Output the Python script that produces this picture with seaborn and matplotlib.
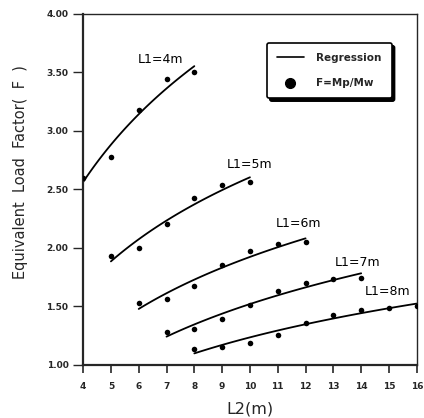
import numpy as np
import pandas as pd
import matplotlib
matplotlib.use("Agg")
import matplotlib.pyplot as plt
from matplotlib.lines import Line2D
import seaborn as sns

# ---- data ----
l2_L4 = [4, 5, 6, 7, 8]
f_L4 = [2.60, 2.78, 3.18, 3.44, 3.50]
l2_L5 = [5, 6, 7, 8, 9, 10]
f_L5 = [1.93, 2.00, 2.20, 2.43, 2.54, 2.56]
l2_L6 = [6, 7, 8, 9, 10, 11, 12]
f_L6 = [1.53, 1.56, 1.67, 1.85, 1.97, 2.03, 2.05]
l2_L7 = [7, 8, 9, 10, 11, 12, 13, 14]
f_L7 = [1.28, 1.31, 1.39, 1.515, 1.635, 1.70, 1.735, 1.745]
l2_L8 = [8, 9, 10, 11, 12, 13, 14, 15, 16]
f_L8 = [1.14, 1.157, 1.19, 1.256, 1.36, 1.43, 1.47, 1.49, 1.50]
series_labels = ["L1=4m", "L1=5m", "L1=6m", "L1=7m", "L1=8m"]

x_ticks = list(range(4, 17))
y_ticks = [1.00, 1.50, 2.00, 2.50, 3.00, 3.50, 4.00]

frames = []
for lab, xs, ys in zip(series_labels,
                       [l2_L4, l2_L5, l2_L6, l2_L7, l2_L8],
                       [f_L4, f_L5, f_L6, f_L7, f_L8]):
    frames.append(pd.DataFrame({"L2": xs, "F": ys, "L1": lab}))
df = pd.concat(frames, ignore_index=True)

sns.set_style("ticks")
plt.rcParams["font.family"] = ["DejaVu Sans"]

fig = plt.figure(figsize=(4.24, 4.18), dpi=100)
ax = fig.add_axes([0.196, 0.127, 0.787, 0.840])

for lab in series_labels:
    sub = df[df["L1"] == lab]
    sns.regplot(data=sub, x="L2", y="F", logx=True, ci=None, scatter=False,
                ax=ax, color="black", line_kws={"linewidth": 1.3})
sns.scatterplot(data=df, x="L2", y="F", ax=ax, color="black", s=16,
                edgecolor="black", linewidth=0, legend=False, zorder=5)

label_pos = {"L1=4m": (5.98, 3.61), "L1=5m": (9.18, 2.71), "L1=6m": (10.94, 2.205),
             "L1=7m": (13.06, 1.875), "L1=8m": (14.14, 1.626)}
for lab in series_labels:
    x0, y0 = label_pos[lab]
    ax.text(x0, y0, lab, fontsize=9, va="center", ha="left", color="black")

ax.set_xlim(4, 16)
ax.set_ylim(1, 4)
ax.set_xticks(x_ticks)
ax.set_xticklabels([str(t) for t in x_ticks], fontsize=6.5, fontweight="bold")
ax.set_yticks(y_ticks)
ax.set_yticklabels([f"{t:.2f}" for t in y_ticks], fontsize=6.5, fontweight="bold")
ax.tick_params(axis="x", direction="out", length=6, width=1.2, pad=6)
ax.tick_params(axis="y", direction="out", length=7, width=1.0, pad=3.5)
ax.set_xlabel("L2(m)", fontsize=11.5, labelpad=8)
ax.set_ylabel("Equivalent  Load  Factor(  F  )", fontsize=10.5)
ax.yaxis.set_label_coords(-0.165, 0.55)

for side in ["left", "bottom"]:
    ax.spines[side].set_linewidth(1.6)
for side in ["top", "right"]:
    ax.spines[side].set_visible(True)
    ax.spines[side].set_linewidth(1.0)

handles = [Line2D([0], [0], color="black", linewidth=1.2),
           Line2D([0], [0], marker="o", color="black", linestyle="none", markersize=7)]
leg = ax.legend(handles, ["Regression", "F=Mp/Mw"], loc="upper right",
                bbox_to_anchor=(0.925, 0.917), borderaxespad=0.0,
                fancybox=True, shadow={"color": "black", "alpha": 1.0},
                frameon=True, edgecolor="black", fontsize=7.5,
                handlelength=2.6, labelspacing=1.5, borderpad=0.95,
                handletextpad=1.2)
leg.get_frame().set_linewidth(1.2)
for t in leg.get_texts():
    t.set_fontweight("bold")

fig.savefig("out.png", dpi=100, facecolor="white")
